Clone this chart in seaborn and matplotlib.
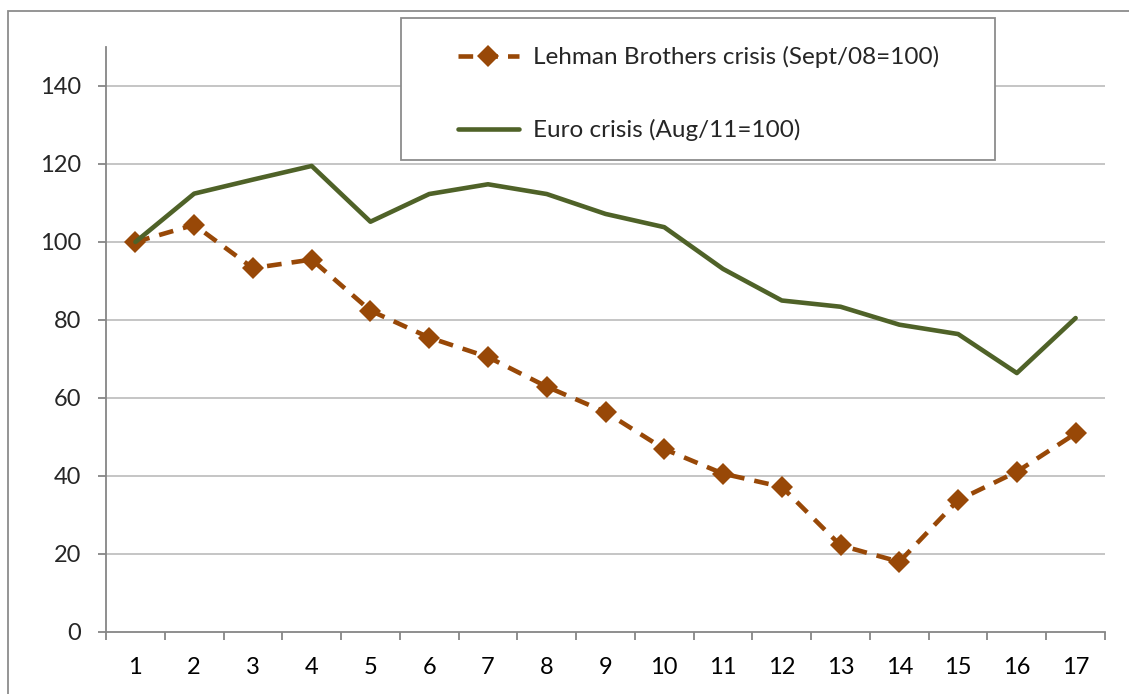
import matplotlib
matplotlib.use("Agg")
import matplotlib.pyplot as plt
import seaborn as sns
from matplotlib.patches import Rectangle
from matplotlib.ticker import FixedLocator

# values
periods = list(range(1, 18))
lehman = [100, 104.4, 93.3, 95.5, 82.4, 75.5, 70.5, 62.9, 56.4, 46.9,
          40.6, 37.2, 22.2, 18.0, 33.8, 41.1, 50.9]
euro = [100, 112.4, 116.0, 119.5, 105.2, 112.3, 114.8, 112.3, 107.2, 103.8,
        93.1, 85.0, 83.4, 78.8, 76.4, 66.4, 80.5]
y_ticks = [0, 20, 40, 60, 80, 100, 120, 140]

lehman_label = "Lehman Brothers crisis (Sept/08=100)"
euro_label = "Euro crisis (Aug/11=100)"

sns.set_style("white")
plt.rcParams["font.family"] = ["Lato", "DejaVu Sans"]

fig = plt.figure(figsize=(11.29, 6.94), dpi=100)
ax = fig.add_axes([106 / 1129, 1 - 632 / 694, 999 / 1129, 585 / 694])

# outer chart border like the Excel chart area
fig.patches.append(Rectangle((8 / 1129, -0.1), 1.2, 1.1 - 11 / 694,
                             transform=fig.transFigure, fill=False,
                             edgecolor="#8c8c8c", linewidth=1.3))

for y in y_ticks[1:]:
    ax.axhline(y, color="#c0c0c0", linewidth=1.3, zorder=0)

sns.lineplot(x=periods, y=lehman, ax=ax, color="#984807", linewidth=3.3,
             linestyle=(0, (3.2, 2.2)), marker="D", markersize=11,
             markeredgewidth=0, label=lehman_label)
sns.lineplot(x=periods, y=euro, ax=ax, color="#4F6228", linewidth=3.3,
             label=euro_label)

ax.set_xlim(0.5, 17.5)
ax.set_ylim(0, 150)
ax.set_yticks(y_ticks)
ax.set_xticks(periods)
ax.set_xticklabels([str(p) for p in periods])
ax.xaxis.set_minor_locator(FixedLocator([p + 0.5 for p in range(0, 18)]))
ax.tick_params(axis="x", which="major", length=0, labelsize=17, pad=18,
               colors="black")
ax.tick_params(axis="x", which="minor", length=6, width=1.3,
               color="#868686", direction="out", bottom=True)
ax.tick_params(axis="y", length=6, width=1.3, color="#868686",
               direction="out", labelsize=17, pad=12, left=True)

for side in ["top", "right"]:
    ax.spines[side].set_visible(False)
for side in ["left", "bottom"]:
    ax.spines[side].set_color("#868686")
    ax.spines[side].set_linewidth(1.3)

# legend frame drawn on its own, entries placed inside it
ax.add_patch(Rectangle(((401 - 106) / 999, (632 - 160) / 585),
                       594 / 999, 142 / 585, transform=ax.transAxes,
                       fill=True, facecolor="white", edgecolor="#8c8c8c",
                       linewidth=1.3, clip_on=False, zorder=4))
leg = ax.legend(loc="upper left", bbox_to_anchor=((458 - 106) / 999, (632 - 46) / 585),
                frameon=False, fontsize=17.5, handlelength=2.5,
                handletextpad=0.6, labelspacing=2.1, borderpad=0,
                borderaxespad=0)
leg.set_zorder(5)

fig.savefig("out.png", dpi=100)
